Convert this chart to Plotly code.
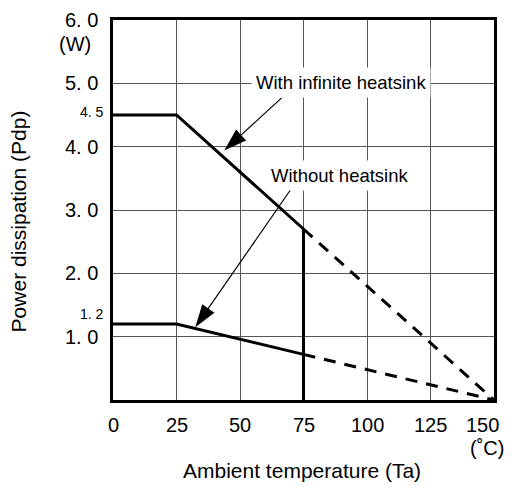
import plotly.graph_objects as go

# ---- data ----
temp_solid = [0, 25, 75]
pd_inf_solid = [4.5, 4.5, 2.7]
pd_wo_solid = [1.2, 1.2, 0.72]
temp_dash = [75, 150]
pd_inf_dash = [2.7, 0.0]
pd_wo_dash = [0.72, 0.0]
cutoff_t = [75, 75]
cutoff_p = [0.0, 2.7]

x_ticks = [0, 25, 50, 75, 100, 125, 150]
x_tick_text = ["0", "25", "50", "75", "100", "125", "150"]
y_ticks = [1, 2, 3, 4, 5, 6]
y_tick_text = ["1. 0", "2. 0", "3. 0", "4. 0", "5. 0", "6. 0"]

labels = ["With infinite heatsink", "Without heatsink"]
label_x = [89.8, 89.5]
label_y = [5.01, 3.54]
arrow_tail_x = [66.4, 69.9]
arrow_tail_y = [4.77, 3.32]
arrow_tip_x = [43.8, 32.4]
arrow_tip_y = [3.94, 1.15]

FONT = "Liberation Sans, Arial, sans-serif"

fig = go.Figure()

line_style = dict(color="black", width=3)
fig.add_trace(go.Scatter(x=temp_solid, y=pd_inf_solid, mode="lines", line=line_style))
fig.add_trace(go.Scatter(x=temp_solid, y=pd_wo_solid, mode="lines", line=line_style))
fig.add_trace(go.Scatter(x=cutoff_t, y=cutoff_p, mode="lines", line=line_style))
fig.add_trace(go.Scatter(x=temp_dash, y=pd_inf_dash, mode="lines",
                         line=dict(color="black", width=3, dash="12px,9px")))
fig.add_trace(go.Scatter(x=temp_dash, y=pd_wo_dash, mode="lines",
                         line=dict(color="black", width=3, dash="12px,9px")))

# arrows
for i in range(2):
    fig.add_trace(go.Scatter(
        x=[arrow_tail_x[i], arrow_tip_x[i]], y=[arrow_tail_y[i], arrow_tip_y[i]],
        mode="lines+markers", line=dict(color="black", width=1.2),
        marker=dict(symbol=["circle", "arrow"], size=[0, 24], color="black",
                    opacity=1, angleref="previous", line=dict(width=0, color="black")),
    ))

annotations = []
for i in range(2):
    annotations.append(dict(x=label_x[i], y=label_y[i], xref="x", yref="y",
                            text=labels[i], showarrow=False, bgcolor="white",
                            borderpad=4, font=dict(size=18.5, family=FONT, color="black")))

# y tick labels
for v, t in zip(y_ticks, y_tick_text):
    annotations.append(dict(x=0, y=v, xref="paper", yref="y", text=t, showarrow=False,
                            xanchor="right", xshift=-13,
                            font=dict(size=20, family=FONT, color="black")))
annotations.append(dict(x=0, y=6, xref="paper", yref="y", text="(W)", showarrow=False,
                        xanchor="right", xshift=-20, yshift=-24,
                        font=dict(size=20, family=FONT, color="black")))
# small level labels
annotations.append(dict(x=0, y=pd_inf_solid[0], xref="paper", yref="y", text="4. 5",
                        showarrow=False, xanchor="right", xshift=-7, yshift=3,
                        font=dict(size=14, family=FONT, color="black")))
annotations.append(dict(x=0, y=pd_wo_solid[0], xref="paper", yref="y", text="1. 2",
                        showarrow=False, xanchor="right", xshift=-7, yshift=10,
                        font=dict(size=14, family=FONT, color="black")))

# x tick labels
for v, t in zip(x_ticks, x_tick_text):
    annotations.append(dict(x=v, y=0, xref="x", yref="paper", text=t, showarrow=False,
                            yanchor="middle", yshift=-25, xshift=(-12 if v == 150 else 0),
                            font=dict(size=20, family=FONT, color="black")))
annotations.append(dict(x=150, y=0, xref="x", yref="paper", text="(˚C)", showarrow=False,
                        yanchor="middle", yshift=-48, xshift=-7,
                        font=dict(size=20, family=FONT, color="black")))

# axis titles
annotations.append(dict(x=0.495, y=0, xref="paper", yref="paper",
                        text="Ambient temperature (Ta)", showarrow=False,
                        yanchor="middle", yshift=-70,
                        font=dict(size=21, family=FONT, color="black")))
annotations.append(dict(x=0, y=0.47, xref="paper", yref="paper",
                        text="Power dissipation (Pdp)", showarrow=False, textangle=-90,
                        xanchor="center", xshift=-95,
                        font=dict(size=21, family=FONT, color="black")))

# page body has an 8px margin: figure origin lands at (8, 8) in the window
fig.update_layout(
    width=498, height=482,
    margin=dict(l=105, r=9, t=11, b=90),
    paper_bgcolor="white", plot_bgcolor="white",
    showlegend=False,
    annotations=annotations,
    font=dict(family=FONT, color="black"),
)
fig.update_xaxes(range=[0, 150], tickvals=[25, 50, 75, 100, 125], showticklabels=False,
                 showgrid=True, gridcolor="#555", gridwidth=1.2, zeroline=False,
                 showline=True, mirror=True, linecolor="black", linewidth=3, ticks="")
fig.update_yaxes(range=[0, 6], tickvals=[1, 2, 3, 4, 5], showticklabels=False,
                 showgrid=True, gridcolor="#555", gridwidth=1.2, zeroline=False,
                 showline=True, mirror=True, linecolor="black", linewidth=3, ticks="")

fig.write_html("out.html")
